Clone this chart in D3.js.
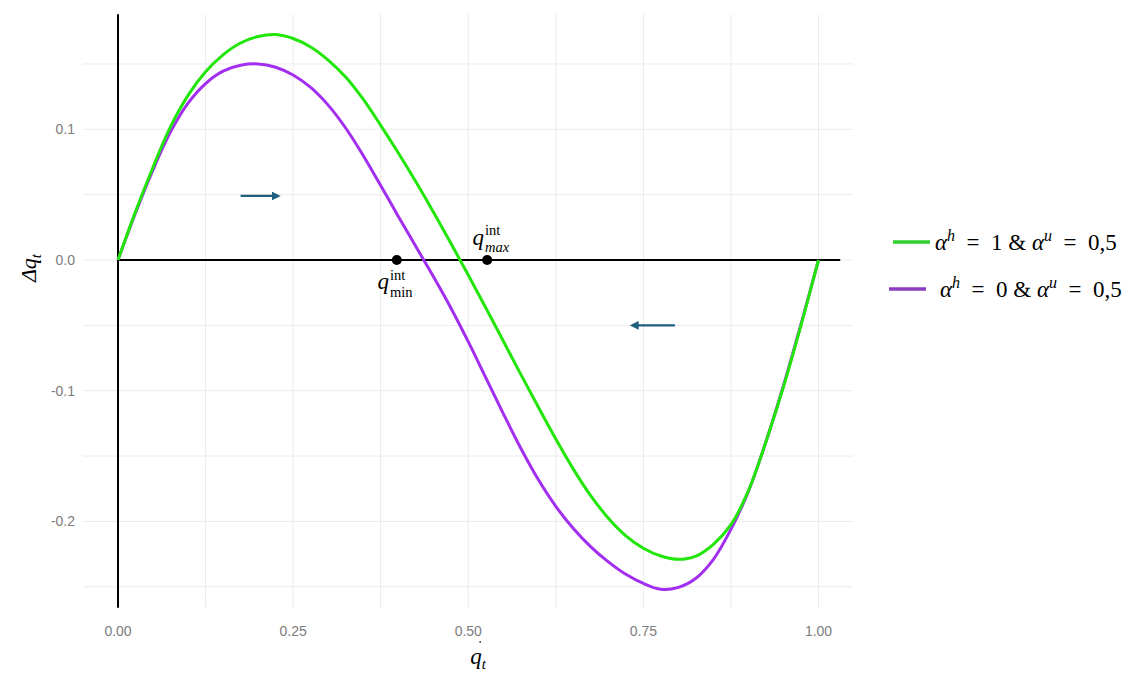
<!DOCTYPE html>
<html>
<head>
<meta charset="utf-8">
<script src="https://cdn.jsdelivr.net/npm/d3@7"></script>
<style>
  body { margin: 0; background: #fff; }
  svg { display: block; }
</style>
</head>
<body>
<svg id="chart" width="1131" height="673"></svg>
<script>
// values, every 0.025 of q_t
const qt = [0, 0.025, 0.05, 0.075, 0.1, 0.125, 0.15, 0.175, 0.2, 0.225, 0.25, 0.275, 0.3, 0.325, 0.35,
  0.375, 0.4, 0.425, 0.45, 0.475, 0.5, 0.525, 0.55, 0.575, 0.6, 0.625, 0.65, 0.675, 0.7, 0.725,
  0.75, 0.775, 0.8, 0.825, 0.85, 0.875, 0.9, 0.925, 0.95, 0.975, 1];

const dGreen = [0, 0.037, 0.071, 0.102, 0.126, 0.144, 0.157, 0.166, 0.171, 0.1725, 0.1695, 0.163, 0.153, 0.140, 0.123,
  0.103, 0.082, 0.060, 0.037, 0.013, -0.0115, -0.0365, -0.062, -0.0875, -0.1125, -0.137, -0.160, -0.1805, -0.1975, -0.211,
  -0.2205, -0.2265, -0.229, -0.2265, -0.2175, -0.2025, -0.1765, -0.139, -0.097, -0.050, 0];

const dPurple = [0, 0.036, 0.069, 0.098, 0.120, 0.135, 0.1445, 0.149, 0.150, 0.1475, 0.1415, 0.132, 0.1185, 0.101, 0.080,
  0.057, 0.0335, 0.0105, -0.0125, -0.0365, -0.0625, -0.090, -0.1175, -0.144, -0.168, -0.1885, -0.2055, -0.2195, -0.231, -0.2405,
  -0.2475, -0.252, -0.2505, -0.2435, -0.229, -0.206, -0.177, -0.139, -0.096, -0.049, 0];

const xTicks = [0, 0.25, 0.5, 0.75, 1];
const xTickLabels = ["0.00", "0.25", "0.50", "0.75", "1.00"];
const xMinor = [0.125, 0.375, 0.625, 0.875];
const yTicks = [0.1, 0, -0.1, -0.2];
const yTickLabels = ["0.1", "0.0", "-0.1", "-0.2"];
const yMinor = [0.15, 0.05, -0.05, -0.15, -0.25];

const qMin = 0.398, qMax = 0.527;

const svg = d3.select("#chart");

const x = d3.scaleLinear().domain([0, 1]).range([118, 818.5]);
const y = d3.scaleLinear().domain([0, 0.1]).range([260, 129.3]);

const panel = { x0: -0.05, x1: 1.049, y0: -0.266, y1: 0.188 };

// grid
const grid = svg.append("g");
grid.selectAll("line.vx")
  .data(xTicks.concat(xMinor))
  .enter().append("line")
  .attr("x1", (d) => x(d)).attr("x2", (d) => x(d))
  .attr("y1", y(panel.y1)).attr("y2", y(panel.y0))
  .style("stroke", "#ebebeb").style("stroke-width", 1);
grid.selectAll("line.hy")
  .data(yTicks.concat(yMinor))
  .enter().append("line")
  .attr("x1", x(panel.x0)).attr("x2", x(panel.x1))
  .attr("y1", (d) => y(d)).attr("y2", (d) => y(d))
  .style("stroke", "#ebebeb").style("stroke-width", 1);

// tick labels
svg.append("g").selectAll("text")
  .data(xTicks)
  .enter().append("text")
  .attr("x", (d) => x(d)).attr("y", 636)
  .attr("text-anchor", "middle")
  .style("font-family", "Liberation Sans, Arial, sans-serif")
  .style("font-size", "14px").style("fill", "#7d7d7d")
  .text((d, i) => xTickLabels[i]);

svg.append("g").selectAll("text")
  .data(yTicks)
  .enter().append("text")
  .attr("x", 75).attr("y", (d) => y(d) + 5)
  .attr("text-anchor", "end")
  .style("font-family", "Liberation Sans, Arial, sans-serif")
  .style("font-size", "14px").style("fill", "#7d7d7d")
  .text((d, i) => yTickLabels[i]);

// small stray dot under 0.50
svg.append("circle").attr("cx", x(0.517)).attr("cy", 642).attr("r", 1).style("fill", "#555");

// axes lines
svg.append("line")
  .attr("x1", x(0)).attr("x2", x(0))
  .attr("y1", y(0.188)).attr("y2", y(-0.266))
  .style("stroke", "#000").style("stroke-width", 2);
svg.append("line")
  .attr("x1", x(0)).attr("x2", x(1.031))
  .attr("y1", y(0)).attr("y2", y(0))
  .style("stroke", "#000").style("stroke-width", 2);

// curves
const line = d3.line()
  .x((d) => x(d[0]))
  .y((d) => y(d[1]))
  .curve(d3.curveCatmullRom.alpha(0.5));

svg.append("path")
  .attr("d", line(d3.zip(qt, dPurple)))
  .style("fill", "none").style("stroke", "#a22ef0").style("stroke-width", 3);
svg.append("path")
  .attr("d", line(d3.zip(qt, dGreen)))
  .style("fill", "none").style("stroke", "#22e60a").style("stroke-width", 3);

// points q_min, q_max
svg.selectAll("circle.pt")
  .data([qMin, qMax])
  .enter().append("circle")
  .attr("cx", (d) => x(d)).attr("cy", y(0)).attr("r", 5)
  .style("fill", "#000");

const serif = "Liberation Serif, DejaVu Serif, serif";

function qLabel(qx, qy, supY, subY, sub, subItalic) {
  const g = svg.append("g").style("font-family", serif);
  g.append("text").attr("x", qx).attr("y", qy)
    .attr("text-anchor", "end")
    .style("font-size", "23px").style("font-style", "italic").text("q");
  g.append("text").attr("x", qx + 1).attr("y", supY)
    .style("font-size", "14.5px").text("int");
  g.append("text").attr("x", qx + 1).attr("y", subY)
    .style("font-size", "14.5px").style("font-style", subItalic ? "italic" : "normal").text(sub);
}
qLabel(389, 289, 280, 297, "min", false);
qLabel(484, 245, 235, 252, "max", true);

// arrows
svg.append("defs").append("marker")
  .attr("id", "head").attr("viewBox", "0 0 10 10")
  .attr("refX", 5).attr("refY", 5)
  .attr("markerWidth", 4).attr("markerHeight", 4)
  .attr("orient", "auto")
  .append("path").attr("d", "M0,0 L10,5 L0,10 Z").style("fill", "#1f5f80");

const arrows = [[0.175, 0.226, 0.049], [0.795, 0.737, -0.05]];
svg.selectAll("line.arrow")
  .data(arrows)
  .enter().append("line")
  .attr("x1", (d) => x(d[0])).attr("x2", (d) => x(d[1]))
  .attr("y1", (d) => y(d[2])).attr("y2", (d) => y(d[2]))
  .attr("marker-end", "url(#head)")
  .style("stroke", "#1f5f80").style("stroke-width", 2.2);

// axis titles
svg.append("text")
  .attr("transform", "translate(36,268) rotate(-90)")
  .attr("text-anchor", "middle")
  .style("font-family", serif).style("font-size", "22px")
  .html('<tspan font-style="italic">Δq</tspan><tspan font-style="italic" font-size="15px" dy="5">t</tspan>');

svg.append("text")
  .attr("x", 478).attr("y", 664)
  .attr("text-anchor", "middle")
  .style("font-family", serif).style("font-size", "23px")
  .html('<tspan font-style="italic">q</tspan><tspan font-style="italic" font-size="15px" dy="5">t</tspan>');

// legend
const legend = [
  { color: "#2fcf2f", x: 893, y: 242, v: "1", tx: 935 },
  { color: "#8a3cc0", x: 889, y: 289, v: "0", tx: 940 },
];
const sp = "\u2002";
const lg = svg.append("g").selectAll("g").data(legend).enter().append("g");
lg.append("line")
  .attr("x1", (d) => d.x).attr("x2", (d) => d.x + 37)
  .attr("y1", (d) => d.y).attr("y2", (d) => d.y)
  .style("stroke", (d) => d.color).style("stroke-width", 3.5);
lg.append("text")
  .attr("x", (d) => d.tx).attr("y", (d) => d.y + 8)
  .style("font-family", serif).style("font-size", "23px")
  .html((d) => '<tspan font-style="italic">α</tspan><tspan font-style="italic" font-size="16px" dy="-9">h</tspan>'
    + '<tspan dy="9">' + sp + '=' + sp + d.v + ' &amp; </tspan><tspan font-style="italic">α</tspan>'
    + '<tspan font-style="italic" font-size="16px" dy="-9">u</tspan><tspan dy="9">' + sp + '=' + sp + '0,5</tspan>');
</script>
</body>
</html>
